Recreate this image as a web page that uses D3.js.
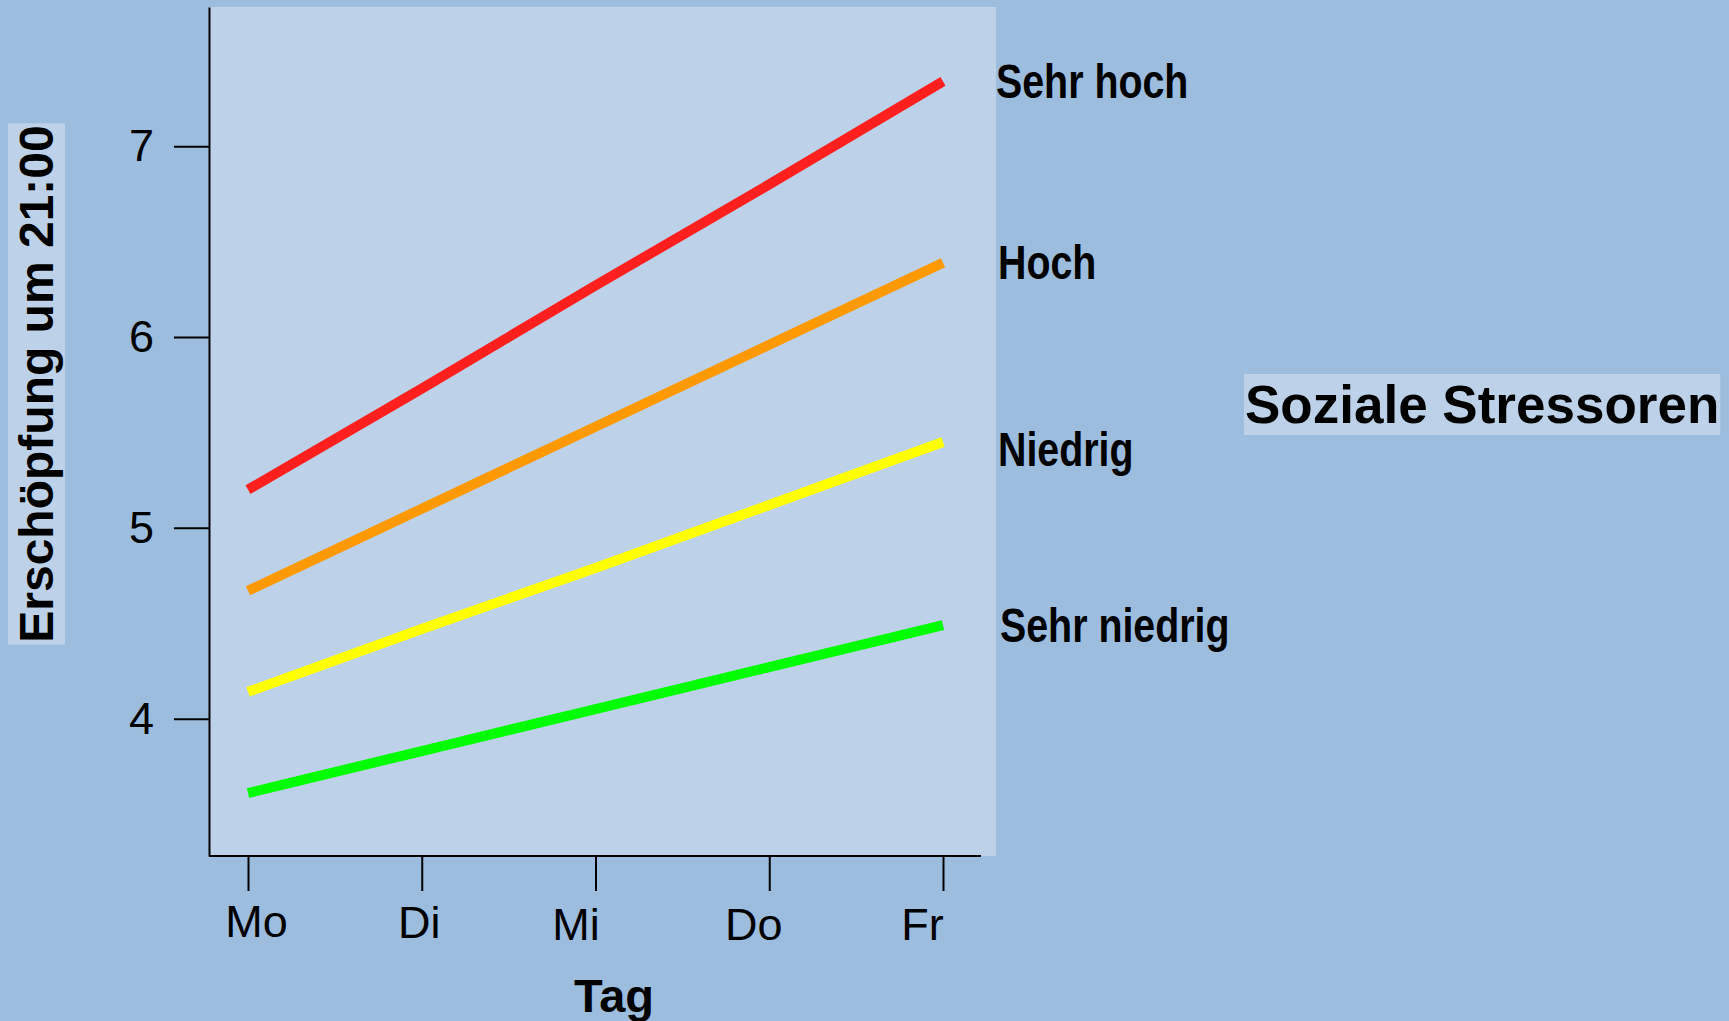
<!DOCTYPE html>
<html>
<head>
<meta charset="utf-8">
<script src="https://cdn.jsdelivr.net/npm/d3@7"></script>
<style>
  body { margin: 0; background: #9dbddf; }
  svg { display: block; }
</style>
</head>
<body>
<div id="chart"></div>
<script>
///data
var days = ["Mo", "Di", "Mi", "Do", "Fr"];
var yTicks = [4, 5, 6, 7];
var groups = ["Sehr hoch", "Hoch", "Niedrig", "Sehr niedrig"];
var sehrHoch = [5.20, 5.73, 6.27, 6.80, 7.34];
var hoch = [4.67, 5.10, 5.53, 5.96, 6.39];
var niedrig = [4.14, 4.47, 4.79, 5.12, 5.45];
var sehrNiedrig = [3.61, 3.83, 4.05, 4.27, 4.49];
var series = [sehrHoch, hoch, niedrig, sehrNiedrig];

///styles
var colors = ["#ff1f1f", "#ff9900", "#ffff00", "#00ff00"];
var bg = "#9dbddf", panel = "#bdd2e9";
// label nudges (px) to match hand-placed text in the original
var dayNudge = [[8, -1], [-3, 0], [-20, 2], [-16, 2], [-21, 2]];
var groupNudge = [[0, 0], [2, 0], [2, 7], [4, 0]];

var width = 1729, height = 1021;

var svg = d3.select('#chart').append('svg')
    .attr('width', width)
    .attr('height', height)
    .style('background', bg);

///scales
var x = d3.scalePoint().domain(days).range([248, 943]);
var y = d3.scaleLinear().domain([3.28, 7.73]).range([856, 7]);

///plot panel
svg.append('rect')
    .attr('x', 209).attr('y', y.range()[1])
    .attr('width', 996 - 209).attr('height', y.range()[0] - y.range()[1])
    .attr('fill', panel);

///lines
var line = d3.line()
    .x((d, i) => x(days[i]))
    .y(d => y(d));

svg.selectAll('path.series')
    .data(series)
    .enter().append('path')
    .attr('class', 'series')
    .attr('d', line)
    .attr('fill', 'none')
    .attr('stroke', (d, i) => colors[i])
    .attr('stroke-width', 10)
    .attr('stroke-linecap', 'butt');

///axes
var yAxis = svg.append('g')
    .attr('transform', 'translate(209,0)')
    .call(d3.axisLeft(y).tickValues(yTicks).tickSize(35).tickSizeOuter(0)
      .tickPadding(20).tickFormat(d3.format('d')));

var xAxis = svg.append('g')
    .attr('transform', 'translate(0,856)')
    .call(d3.axisBottom(x).tickSize(35).tickPadding(15).tickSizeOuter(0));

xAxis.select('.domain').remove();
xAxis.append('line')
    .attr('x1', 209).attr('x2', 981);

[xAxis, yAxis].forEach(g => {
  g.selectAll('line').attr('stroke', '#000').attr('stroke-width', 2);
  g.select('.domain').attr('stroke', '#000').attr('stroke-width', 2);
  g.selectAll('text')
      .attr('fill', '#000')
      .style('font-family', '"Liberation Sans", Arial, sans-serif')
      .style('font-size', '45px');
});

xAxis.selectAll('.tick text')
    .attr('transform', (d, i) => `translate(${dayNudge[i][0]},${dayNudge[i][1]})`);

///group labels at line ends (narrow bold)
svg.selectAll('text.group')
    .data(groups)
    .enter().append('text')
    .attr('class', 'group')
    .attr('transform', (d, i) => {
      var ty = y(series[i][series[i].length - 1]) + groupNudge[i][1];
      return `translate(${x('Fr') + 53 + groupNudge[i][0]},${ty}) scale(0.82,1)`;
    })
    .attr('dy', '0.35em')
    .style('font-family', '"Liberation Sans", Arial, sans-serif')
    .style('font-weight', 'bold')
    .style('font-size', '48px')
    .text(d => d);

///axis titles
svg.append('text')
    .attr('x', 614).attr('y', 1012)
    .attr('text-anchor', 'middle')
    .style('font-family', '"Liberation Sans", Arial, sans-serif')
    .style('font-weight', 'bold')
    .style('font-size', '47px')
    .text('Tag');

function boxed(g, pad) {
  var b = g.select('text').node().getBBox();
  g.insert('rect', 'text')
      .attr('x', b.x - pad).attr('y', b.y - pad)
      .attr('width', b.width + 2 * pad).attr('height', b.height + 2 * pad)
      .attr('fill', panel);
}

var yTitle = svg.append('g')
    .attr('transform', 'translate(53,384) rotate(-90)');
yTitle.append('text')
    .attr('text-anchor', 'middle')
    .style('font-family', '"Liberation Sans", Arial, sans-serif')
    .style('font-weight', 'bold')
    .style('font-size', '48px')
    .text('Erschöpfung um 21:00');
boxed(yTitle, 2);

var legendTitle = svg.append('g')
    .attr('transform', 'translate(1245,423)');
legendTitle.append('text')
    .style('font-family', '"Liberation Sans", Arial, sans-serif')
    .style('font-weight', 'bold')
    .style('font-size', '53px')
    .text('Soziale Stressoren');
boxed(legendTitle, 1);
</script>
</body>
</html>
